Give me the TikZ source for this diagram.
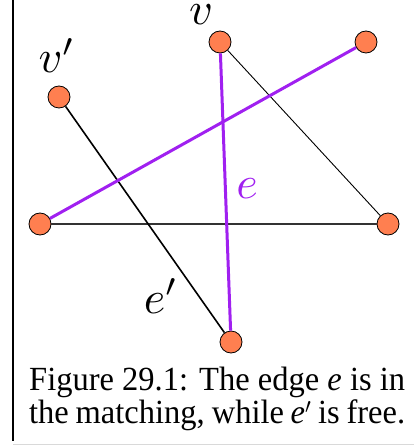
\documentclass[tikz,border=0pt]{standalone}
\usepackage{fontspec}
\setmainfont{Liberation Serif}
\definecolor{vert}{RGB}{255,127,80}
\definecolor{match}{RGB}{160,32,240}
\begin{document}
\begin{tikzpicture}[x=1pt,y=-1pt,
  vtx/.style={circle,draw=black,line width=0.8pt,fill=vert,minimum size=22pt,inner sep=0pt},
  matched/.style={draw=match,line width=3pt},
  freeedge/.style={draw=black,line width=1.6pt},
  thinedge/.style={draw=black,line width=0.9pt},
  lbl/.style={scale=4.6,inner sep=0pt,anchor=base},
  captext/.style={font=\fontsize{32.5}{36}\selectfont,yscale=1.04,inner sep=0pt,anchor=base west}]
\useasboundingbox (0,0) rectangle (414,446);
\draw[line width=1.2pt] (13,0) -- (13,441);
\draw[line width=0.8pt,black!15] (13,444) -- (414,444);
\node[vtx] (v) at (220,42) {};
\node[vtx] (tr) at (366,42) {};
\node[vtx] (vp) at (59,97) {};
\node[vtx] (l) at (40,224) {};
\node[vtx] (r) at (388,224) {};
\node[vtx] (b) at (231,342) {};
\draw[thinedge] (v) -- (r);
\draw[freeedge,draw=black!80] (l) -- (r);
\draw[freeedge] (vp) -- (b);
\draw[matched] (v) -- (b);
\draw[matched] (tr) -- (l);
\node[lbl] (lv) at (201,25) {$v$};
\node[lbl] (lvp) at (57,73) {$v'$};
\node[lbl,text=match] (le) at (247,198) {$e$};
\node[lbl] (lep) at (161,313) {$e'$};
\node[captext] (c1) at (29,390) {\makebox[376pt][s]{Figure 29.1: The edge \textit{e} is in}};
\node[captext] (c2) at (29,423) {\makebox[376pt][s]{the matching, while \textit{e}\('\) is free.}};
\end{tikzpicture}
\end{document}
